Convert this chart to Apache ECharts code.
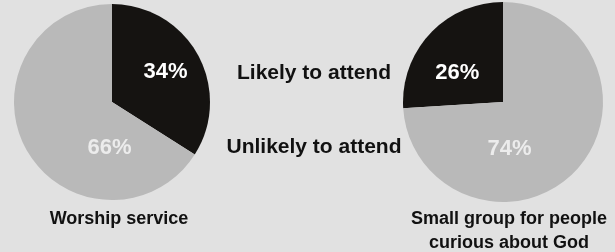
<!DOCTYPE html>
<html>
<head>
<meta charset="utf-8">
<script src="https://cdn.jsdelivr.net/npm/echarts@6/dist/echarts.min.js"></script>
<style>
html,body{margin:0;padding:0;background:#e1e1e1;}
#c{width:615px;height:252px;}
</style>
</head>
<body>
<div id="c"></div>
<script>
const categories = ['Likely to attend', 'Unlikely to attend'];
const worshipValues = [34, 66];
const smallGroupValues = [26, 74];
const pieTitles = ['Worship service', 'Small group for people\ncurious about God'];

const FONT = '"Liberation Sans", Arial, sans-serif';
const BLACK = '#151311';
const GRAY = '#b9b9b9';

const chart = echarts.init(document.getElementById('c'), null, {renderer: 'canvas'});

function lbl(color, ox, oy) {
  return {show: true, position: 'inside', color: color, fontFamily: FONT, fontWeight: 'bold', fontSize: 22, offset: [ox, oy], formatter: '{c}%'};
}

chart.setOption({
  backgroundColor: '#e1e1e1',
  animation: false,
  title: [
    {text: pieTitles[0], left: 114, top: 205, textAlign: 'center',
     textStyle: {fontFamily: FONT, fontWeight: 'bold', fontSize: 18, color: '#111111'}},
    {text: pieTitles[1], left: 504, top: 202, textAlign: 'center',
     textStyle: {fontFamily: FONT, fontWeight: 'bold', fontSize: 18, color: '#111111', lineHeight: 24}},
    {text: categories[0], left: 309, top: 58, textAlign: 'center',
     textStyle: {fontFamily: FONT, fontWeight: 'bold', fontSize: 21, color: '#111111'}},
    {text: categories[1], left: 309, top: 132, textAlign: 'center',
     textStyle: {fontFamily: FONT, fontWeight: 'bold', fontSize: 21, color: '#111111'}}
  ],
  series: [
    {
      type: 'pie', center: [112, 102], radius: 98, startAngle: 90, clockwise: true,
      silent: true, labelLine: {show: false},
      data: [
        {name: categories[0], value: worshipValues[0], itemStyle: {color: BLACK}, label: lbl('#ffffff', 8, -5)},
        {name: categories[1], value: worshipValues[1], itemStyle: {color: GRAY}, label: lbl('#ececec', 43, 21)}
      ]
    },
    {
      type: 'pie', center: [503, 102], radius: 100, startAngle: 90, clockwise: false,
      silent: true, labelLine: {show: false},
      data: [
        {name: categories[0], value: smallGroupValues[0], itemStyle: {color: BLACK}, label: lbl('#ffffff', -7, 7)},
        {name: categories[1], value: smallGroupValues[1], itemStyle: {color: GRAY}, label: lbl('#ececec', -32, 11)}
      ]
    }
  ]
});
</script>
</body>
</html>
